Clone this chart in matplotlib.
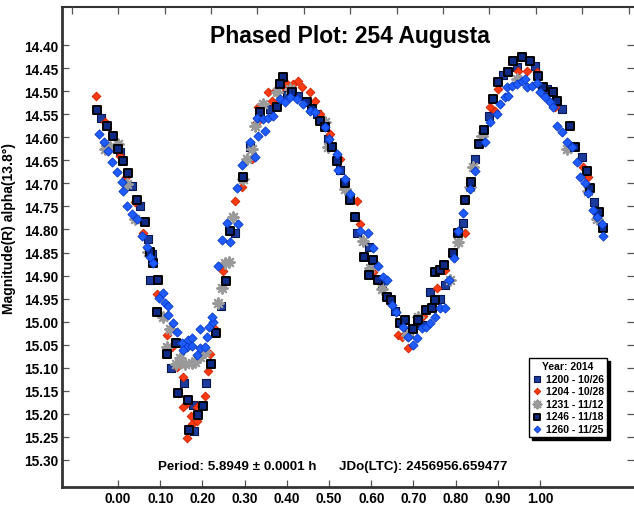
import numpy as np
import matplotlib.pyplot as plt

plt.rcParams['font.family'] = ['Liberation Sans', 'DejaVu Sans']
plt.rcParams['font.weight'] = 'bold'

# 1200 - 10/26 (squares, thin edge)
ph_1200 = [-0.040, 0.005, 0.033, 0.052, 0.071, 0.081, 0.076, 0.126, 0.156, 0.178,
           0.180, 0.209, 0.244, 0.277, 0.313, 0.360, 0.400, 0.427, 0.472, 0.498,
           0.526, 0.566, 0.595, 0.626, 0.656, 0.690, 0.720, 0.739, 0.763, 0.775,
           0.817, 0.846, 0.879, 0.912, 0.945, 0.988, 1.016, 1.052, 1.100, 1.128]
mag_1200 = [14.557, 14.632, 14.705, 14.748, 14.820, 14.854, 14.909, 15.100, 15.133, 15.180,
            15.237, 15.133, 14.965, 14.807, 14.620, 14.539, 14.507, 14.511, 14.550, 14.604,
            14.670, 14.807, 14.839, 14.917, 14.978, 15.022, 15.007, 14.935, 14.950, 14.920,
            14.785, 14.648, 14.554, 14.465, 14.448, 14.446, 14.496, 14.539, 14.643, 14.741]

# 1204 - 10/28 (red diamonds)
ph_1204 = [-0.052, -0.031, 0.005, 0.019, 0.040, 0.059, 0.092, 0.116, 0.128, 0.140,
           0.154, 0.142, 0.164, 0.154, 0.187, 0.197, 0.173, 0.175, 0.187, 0.164,
           0.206, 0.213, 0.218, 0.230, 0.249, 0.254, 0.277, 0.294, 0.318, 0.329,
           0.332, 0.355, 0.365, 0.372, 0.391, 0.400, 0.415, 0.427, 0.436, 0.455,
           0.467, 0.479, 0.502, 0.526, 0.566, 0.573, 0.604, 0.664, 0.673, 0.687,
           0.723, 0.756, 0.775, 0.822, 0.882, 0.893, 0.900, 0.922, 0.948, 0.969,
           0.993, 1.036, 1.102, 1.114]
mag_1204 = [14.511, 14.567, 14.640, 14.685, 14.740, 14.807, 14.941, 15.028, 15.054, 15.098,
            15.120, 15.154, 15.176, 15.185, 15.185, 15.183, 15.204, 15.222, 15.215, 15.252,
            15.161, 15.107, 15.070, 15.017, 14.891, 14.915, 14.739, 14.707, 14.648, 14.567,
            14.535, 14.502, 14.522, 14.500, 14.489, 14.485, 14.485, 14.478, 14.491, 14.502,
            14.522, 14.550, 14.593, 14.648, 14.739, 14.789, 14.893, 15.028, 15.033, 15.057,
            14.987, 14.928, 14.887, 14.807, 14.535, 14.543, 14.496, 14.459, 14.457, 14.457,
            14.459, 14.535, 14.665, 14.685]

# 1231 - 11/12 (gray asterisks)
ph_1231 = [-0.031, -0.019, 0.000, 0.021, 0.040, 0.071, 0.107, 0.123, 0.116, 0.137,
           0.147, 0.159, 0.175, 0.182, 0.194, 0.206, 0.237, 0.246, 0.254, 0.263,
           0.273, 0.296, 0.306, 0.318, 0.325, 0.344, 0.377, 0.408, 0.491, 0.498,
           0.538, 0.581, 0.597, 0.626, 0.685, 0.711, 0.787, 0.806, 0.834, 0.841,
           0.863, 0.945, 1.064, 1.114, 1.135]
mag_1231 = [14.626, 14.620, 14.615, 14.702, 14.778, 14.848, 14.991, 15.017, 15.054, 15.093,
            15.078, 15.093, 15.089, 15.087, 15.076, 15.065, 14.959, 14.926, 14.872, 14.870,
            14.772, 14.691, 14.648, 14.626, 14.576, 14.528, 14.502, 14.496, 14.567, 14.622,
            14.713, 14.826, 14.883, 14.930, 15.028, 14.991, 14.909, 14.828, 14.707, 14.665,
            14.598, 14.474, 14.626, 14.717, 14.778]

# 1246 - 11/18 (squares, black edge)
ph_1246 = [-0.050, -0.026, -0.012, 0.000, 0.012, 0.024, 0.045, 0.064, 0.076, 0.083,
           0.095, 0.092, 0.116, 0.137, 0.142, 0.166, 0.190, 0.168, 0.201, 0.220,
           0.232, 0.256, 0.265, 0.296, 0.336, 0.377, 0.391, 0.384, 0.412, 0.448,
           0.460, 0.479, 0.491, 0.507, 0.519, 0.538, 0.550, 0.562, 0.583, 0.604,
           0.595, 0.616, 0.637, 0.647, 0.668, 0.680, 0.699, 0.711, 0.730, 0.744,
           0.751, 0.751, 0.763, 0.773, 0.794, 0.806, 0.822, 0.836, 0.855, 0.867,
           0.889, 0.900, 0.924, 0.936, 0.957, 0.976, 0.995, 1.007, 1.031, 1.040,
           1.071, 1.083, 1.111, 1.118, 1.140, 1.149]
mag_1246 = [14.540, 14.576, 14.598, 14.626, 14.652, 14.678, 14.735, 14.783, 14.848, 14.873,
            14.909, 14.980, 15.070, 15.046, 15.154, 15.170, 15.202, 15.235, 15.183, 15.093,
            15.024, 14.911, 14.804, 14.687, 14.546, 14.533, 14.470, 14.485, 14.502, 14.524,
            14.539, 14.565, 14.578, 14.622, 14.652, 14.700, 14.735, 14.772, 14.859, 14.867,
            14.898, 14.909, 14.946, 14.954, 15.002, 14.996, 15.017, 14.996, 14.974, 14.970,
            14.952, 14.893, 14.887, 14.876, 14.850, 14.807, 14.735, 14.696, 14.615, 14.583,
            14.517, 14.480, 14.459, 14.435, 14.426, 14.435, 14.467, 14.491, 14.502, 14.522,
            14.576, 14.620, 14.674, 14.709, 14.761, 14.796]

# 1260 - 11/25 (blue diamonds)
ph_1260 = [-0.045, -0.033, -0.024, -0.014, -0.002, 0.009, 0.012, 0.021, 0.033, 0.045,
           0.057, 0.069, 0.076, 0.083, 0.107, 0.097, 0.111, 0.118, 0.118, 0.130,
           0.140, 0.152, 0.166, 0.175, 0.164, 0.154, 0.175, 0.187, 0.194, 0.206,
           0.211, 0.194, 0.216, 0.225, 0.223, 0.237, 0.246, 0.258, 0.265, 0.284,
           0.282, 0.294, 0.313, 0.325, 0.332, 0.348, 0.329, 0.344, 0.355, 0.367,
           0.384, 0.396, 0.408, 0.424, 0.438, 0.455, 0.467, 0.490, 0.500, 0.519,
           0.521, 0.538, 0.550, 0.573, 0.592, 0.604, 0.616, 0.628, 0.637, 0.649,
           0.659, 0.675, 0.687, 0.699, 0.709, 0.720, 0.730, 0.739, 0.751, 0.763,
           0.775, 0.784, 0.796, 0.806, 0.817, 0.834, 0.846, 0.870, 0.882, 0.898,
           0.905, 0.917, 0.924, 0.922, 0.934, 0.945, 0.957, 0.964, 0.969, 0.981,
           0.993, 1.000, 1.012, 1.024, 1.031, 1.040, 1.052, 1.064, 1.076, 1.088,
           1.095, 1.107, 1.114, 1.126, 1.135, 1.147, 1.149]
mag_1260 = [14.593, 14.609, 14.630, 14.654, 14.676, 14.696, 14.717, 14.748, 14.767, 14.778,
            14.815, 14.837, 14.859, 14.872, 14.937, 14.948, 14.959, 14.967, 14.985, 15.002,
            15.022, 15.046, 15.039, 15.035, 15.054, 15.061, 15.052, 15.072, 15.057, 15.054,
            15.033, 15.017, 15.011, 15.000, 14.989, 14.880, 14.822, 14.785, 14.828, 14.789,
            14.709, 14.661, 14.609, 14.643, 14.598, 14.587, 14.557, 14.561, 14.557, 14.554,
            14.517, 14.524, 14.513, 14.517, 14.528, 14.543, 14.546, 14.578, 14.604, 14.637,
            14.670, 14.691, 14.724, 14.804, 14.807, 14.841, 14.880, 14.904, 14.909, 14.963,
            14.980, 15.011, 15.033, 15.050, 15.035, 15.013, 15.011, 15.002, 14.991, 14.970,
            14.970, 14.909, 14.861, 14.804, 14.765, 14.713, 14.674, 14.611, 14.567, 14.550,
            14.528, 14.513, 14.511, 14.491, 14.489, 14.485, 14.478, 14.474, 14.491, 14.489,
            14.481, 14.502, 14.513, 14.524, 14.533, 14.576, 14.589, 14.609, 14.622, 14.654,
            14.685, 14.698, 14.720, 14.757, 14.772, 14.789, 14.815]

x_ticks = [0.0, 0.1, 0.2, 0.3, 0.4, 0.5, 0.6, 0.7, 0.8, 0.9, 1.0]
y_ticks = [14.40, 14.45, 14.50, 14.55, 14.60, 14.65, 14.70, 14.75, 14.80, 14.85,
           14.90, 14.95, 15.00, 15.05, 15.10, 15.15, 15.20, 15.25, 15.30]
top_ticks = [-0.11, 0.0, 0.11, 0.22, 0.33, 0.44, 0.55, 0.66, 0.77, 0.88, 0.99, 1.10, 1.21]

fig = plt.figure(figsize=(6.34, 5.06), dpi=100)
ax = fig.add_axes([62 / 634, 18 / 506, 572 / 634, 480 / 506])

ax.scatter(ph_1200, mag_1200, marker='s', s=26, c='#1b3c9c', edgecolors='#0a1650',
           linewidths=0.8, label='1200 - 10/26', zorder=2)
ax.scatter(ph_1204, mag_1204, marker='D', s=20, c='#ff3a10', edgecolors='#c82000',
           linewidths=0.6, label='1204 - 10/28', zorder=3)
ax.scatter(ph_1231, mag_1231, marker=(8, 2, 0), s=55, c='#9a9a9a',
           linewidths=1.6, label='1231 - 11/12', zorder=4)
ax.scatter(ph_1246, mag_1246, marker='s', s=40, c='#0c2a86', edgecolors='black',
           linewidths=1.4, label='1246 - 11/18', zorder=5)
ax.scatter(ph_1260, mag_1260, marker='D', s=22, c='#1f5cff', edgecolors='#0838c8',
           linewidths=0.6, label='1260 - 11/25', zorder=6)

ax.set_xlim(-0.133, 1.223)
ax.set_ylim(15.359, 14.317)
ax.set_xticks(x_ticks)
ax.set_xticklabels(['%.2f' % v for v in x_ticks])
ax.set_yticks(y_ticks)
ax.set_yticklabels(['%.2f' % v for v in y_ticks])
ax.tick_params(axis='both', direction='in', length=5, width=0.9, color='#555555',
               labelsize=9.8, pad=3)
ax.tick_params(axis='y', right=True, pad=2.5)
for lab in ax.get_xticklabels() + ax.get_yticklabels():
    lab.set_fontweight('bold')

ax.spines['left'].set_linewidth(2)
ax.spines['bottom'].set_linewidth(2)
ax.spines['top'].set_linewidth(1.5)
for sp in ['left', 'bottom', 'top']:
    ax.spines[sp].set_color('#333333')
ax.spines['right'].set_visible(False)

# top axis has its own tick spacing
ax_top = ax.twiny()
ax_top.set_xlim(ax.get_xlim())
ax_top.set_xticks(top_ticks)
ax_top.set_xticklabels([])
ax_top.tick_params(axis='x', direction='in', length=5, width=0.9, color='#555555')
for sp in ax_top.spines.values():
    sp.set_visible(False)

ax.set_ylabel('Magnitude(R) alpha(13.8°)', fontsize=10, fontweight='bold')
ax.yaxis.set_label_coords(-0.081, 0.54)

ax.text(0.503, 0.94, 'Phased Plot: 254 Augusta', transform=ax.transAxes,
        ha='center', va='center', fontsize=16.5, fontweight='bold')
ax.text(0.474, 0.044, 'Period: 5.8949 ± 0.0001 h      JDo(LTC): 2456956.659477',
        transform=ax.transAxes, ha='center', va='center', fontsize=9.6, fontweight='bold')

leg = ax.legend(loc='lower right', bbox_to_anchor=(0.953, 0.104), borderaxespad=0,
                title='Year: 2014', title_fontproperties={'weight': 'bold', 'size': 7.5},
                prop={'weight': 'bold', 'size': 7.5}, markerscale=0.75,
                handlelength=0.9, handletextpad=0.4, labelspacing=0.25,
                borderpad=0.3, fancybox=False, framealpha=1, edgecolor='black',
                shadow={'color': 'black', 'alpha': 1.0})
leg.get_frame().set_linewidth(1.0)
leg.set_zorder(10)

fig.savefig('out.png', dpi=100)
